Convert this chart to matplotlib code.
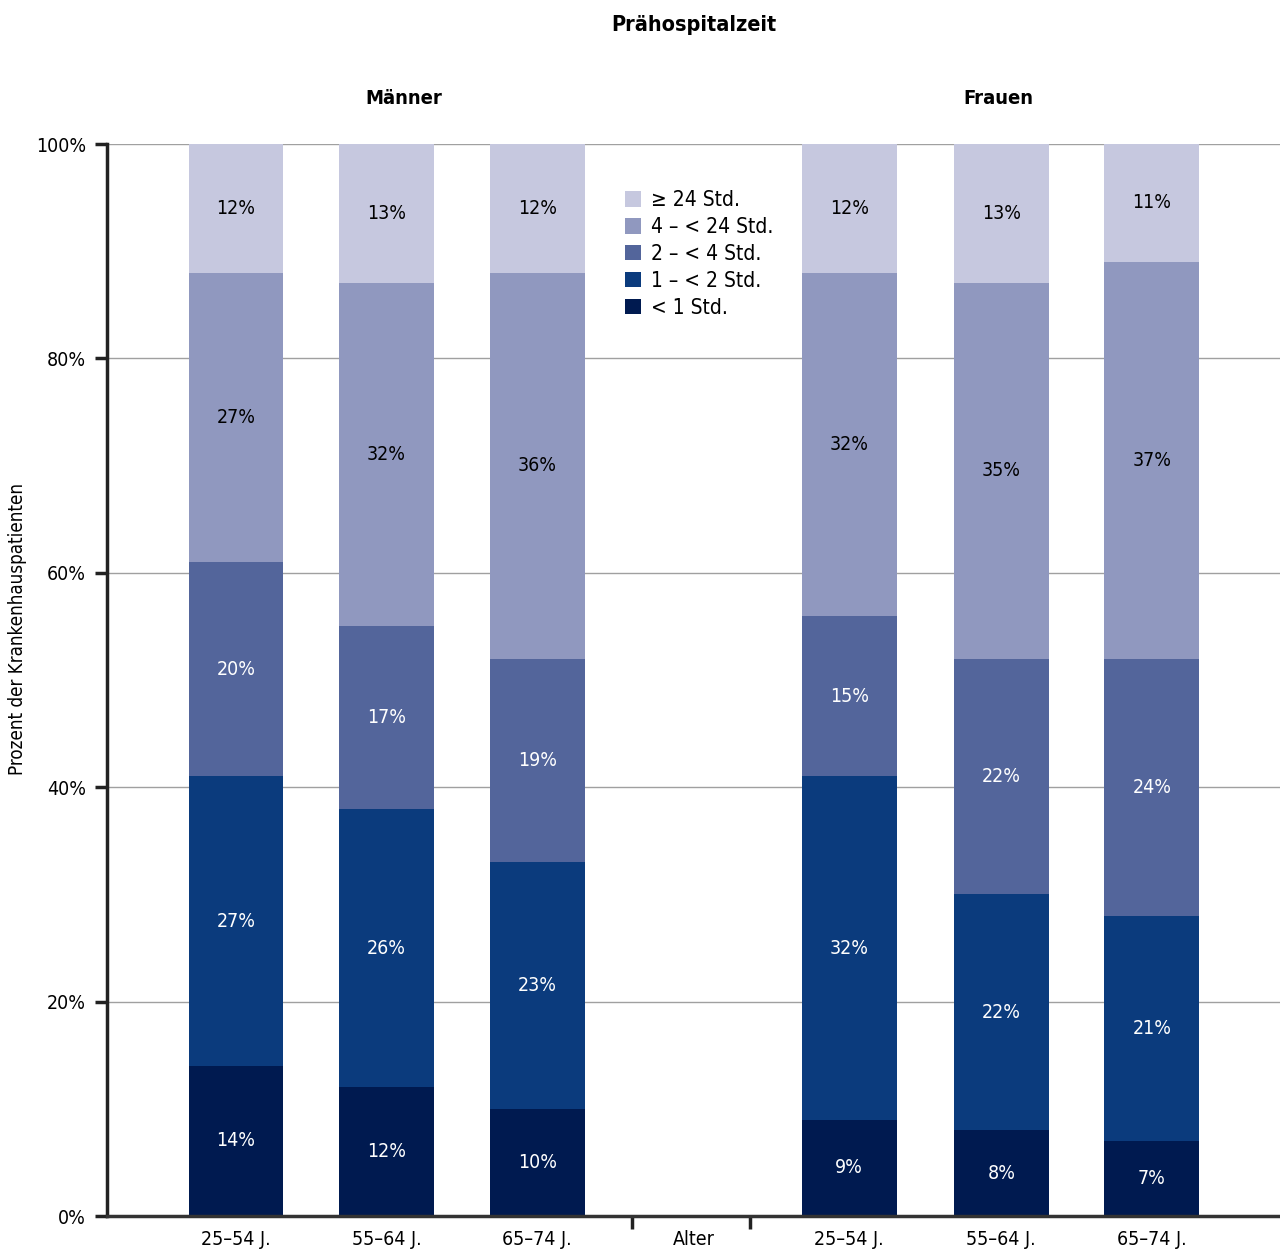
import matplotlib
matplotlib.use("Agg")
import matplotlib.pyplot as plt
from matplotlib import font_manager
import numpy as np

# Data (percent of hospital patients)
groups = ["Männer", "Frauen"]
age_labels = ["25–54 J.", "55–64 J.", "65–74 J.", "25–54 J.", "55–64 J.", "65–74 J."]
categories = ["< 1 Std.", "1 – < 2 Std.", "2 – < 4 Std.", "4 – < 24 Std.", "≥ 24 Std."]
lt1 = [14, 12, 10, 9, 8, 7]
h1_2 = [27, 26, 23, 32, 22, 21]
h2_4 = [20, 17, 19, 15, 22, 24]
h4_24 = [27, 32, 36, 32, 35, 37]
ge24 = [12, 13, 12, 12, 13, 11]
series = [lt1, h1_2, h2_4, h4_24, ge24]

colors = ["#001a50", "#0b3b7d", "#53659b", "#9098bf", "#c6c8df"]
text_colors = ["white", "white", "white", "black", "black"]

# Font: prefer a narrow sans
available = {f.name for f in font_manager.fontManager.ttflist}
family = "Liberation Sans Narrow" if "Liberation Sans Narrow" in available else "DejaVu Sans"
plt.rcParams["font.family"] = [family, "DejaVu Sans"]
plt.rcParams["font.stretch"] = "condensed"

fig = plt.figure(figsize=(12.8, 12.52), dpi=100)
ax = fig.add_axes([107 / 1280, 1 - 1216 / 1252, 1 - 107 / 1280, (1216 - 144) / 1252])

x = np.array([0, 1, 2, 4.07, 5.08, 6.08])
width = 0.63

bottom = np.zeros(len(x))
for vals, col, tcol, cat in zip(series, colors, text_colors, categories):
    vals = np.array(vals)
    ax.bar(x, vals, width, bottom=bottom, color=col, label=cat, zorder=2)
    for xi, b, v in zip(x, bottom, vals):
        ax.text(xi, b + v / 2, f"{v}%", ha="center", va="center",
                color=tcol, fontsize=14, zorder=3)
    bottom += vals

ax.set_xlim(-0.856, 6.93)
ax.set_ylim(0, 100)
ax.set_yticks([0, 20, 40, 60, 80, 100])
ax.set_yticklabels(["0%", "20%", "40%", "60%", "80%", "100%"], fontsize=14)
ax.yaxis.grid(True, color="#a0a0a0", linewidth=1.0, zorder=0)
ax.set_axisbelow(True)

ax.set_xticks([2.63, 3.41])
ax.set_xticklabels([])
ax.tick_params(axis="x", direction="out", length=9, width=2.5, color="#222222")
ax.tick_params(axis="y", direction="out", length=9, width=2.5, color="#222222", pad=6)
for xi, lab in zip(x, age_labels):
    ax.text(xi, -1.3, lab, ha="center", va="top", fontsize=14)
ax.text(3.04, -1.3, "Alter", ha="center", va="top", fontsize=14)

for s in ["top", "right"]:
    ax.spines[s].set_visible(False)
ax.spines["left"].set_linewidth(2.5)
ax.spines["left"].set_color("#222222")
ax.spines["bottom"].set_linewidth(2.5)
ax.spines["bottom"].set_color("#333333")

handles, labels = ax.get_legend_handles_labels()
leg = ax.legend(handles[::-1], labels[::-1], loc="upper left",
                bbox_to_anchor=((617 - 107) / (1280 - 107), (1216 - 182) / (1216 - 144)),
                frameon=False, fontsize=15, handlelength=0.75, handleheight=0.75,
                handletextpad=0.5, labelspacing=0.33, borderaxespad=0)

fig.text(694 / 1280, 1 - 25 / 1252, "Prähospitalzeit", ha="center", va="center",
         fontsize=15.5, fontweight="bold")
fig.text(404 / 1280, 1 - 98 / 1252, groups[0], ha="center", va="center",
         fontsize=14.5, fontweight="bold")
fig.text(998 / 1280, 1 - 98 / 1252, groups[1], ha="center", va="center",
         fontsize=14.5, fontweight="bold")
fig.text(18 / 1280, 1 - 629 / 1252, "Prozent der Krankenhauspatienten", rotation=90,
         ha="center", va="center", fontsize=13.5)

fig.savefig("out.png", dpi=100)
